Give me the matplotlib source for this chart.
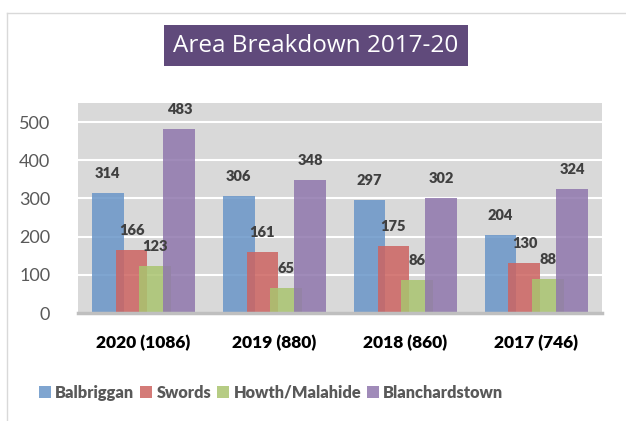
import matplotlib.pyplot as plt
import matplotlib.lines as mlines
import numpy as np

# data
years = ['2020 (1086)', '2019 (880)', '2018 (860)', '2017 (746)']
areas = ['Balbriggan', 'Swords', 'Howth/Malahide', 'Blanchardstown']
balbriggan = [314, 306, 297, 204]
swords = [166, 161, 175, 130]
howth = [123, 65, 86, 88]
blanch = [483, 348, 302, 324]
series = [balbriggan, swords, howth, blanch]
colours = ['#6995C8', '#CD6461', '#A9C46F', '#8F77AD']

plt.rcParams['font.family'] = ['Lato', 'DejaVu Sans']

fig = plt.figure(figsize=(6.26, 4.21), dpi=100)
ax = fig.add_axes([0.1246, 0.2565, 0.837, 0.4988])
ax.set_facecolor('#D9D9D9')

x = np.arange(len(years))
w = 0.244
step = 0.183
for i in range(len(series)):
    pos = x + (i - 1.5) * step
    ax.bar(pos, series[i], width=w, color=colours[i], alpha=0.85,
           label=areas[i], zorder=3 + i)
    for p, v in zip(pos, series[i]):
        ax.annotate(str(v), (p, v), xytext=(0, 14), textcoords='offset points',
                    ha='center', va='center', fontsize=10.5, fontweight='heavy',
                    color='#404040', zorder=10)

ax.set_xlim(-0.5, 3.5)
ax.set_ylim(0, 550)
ax.set_yticks([0, 100, 200, 300, 400, 500])
ax.yaxis.grid(True, color='white', linewidth=1.5, zorder=1)
ax.set_axisbelow(True)
ax.tick_params(axis='y', length=0, pad=20, labelsize=13, labelcolor='#595959')
ax.set_xticks(x)
ax.set_xticklabels(years, fontsize=12.5, fontweight='heavy', color='black')
ax.tick_params(axis='x', length=0, pad=16)
for s in ['top', 'right', 'left']:
    ax.spines[s].set_visible(False)
ax.spines['bottom'].set_color('#BFBFBF')
ax.spines['bottom'].set_linewidth(2.5)
ax.spines['bottom'].set_zorder(20)

leg = fig.legend(loc='center', bbox_to_anchor=(0.433, 1 - 393 / 421), ncol=4,
                 frameon=False, handlelength=0.75, handleheight=0.75,
                 handletextpad=0.25, columnspacing=0.35,
                 prop={'size': 11.8, 'weight': 'heavy'})
for t in leg.get_texts():
    t.set_color('#595959')

fig.text(316 / 626, 1 - 45.5 / 421, 'Area Breakdown 2017-20', ha='center', va='center',
         fontsize=17.5, color='white', family='Open Sans',
         bbox=dict(facecolor='#604A7B', edgecolor='none', pad=6.5))

# outer chart border
fig.add_artist(mlines.Line2D([7 / 626, 7 / 626], [0, 1 - 13 / 421], color='#D9D9D9', lw=1))
fig.add_artist(mlines.Line2D([7 / 626, 1], [1 - 13 / 421, 1 - 13 / 421], color='#D9D9D9', lw=1))

plt.savefig('out.png', dpi=100)
